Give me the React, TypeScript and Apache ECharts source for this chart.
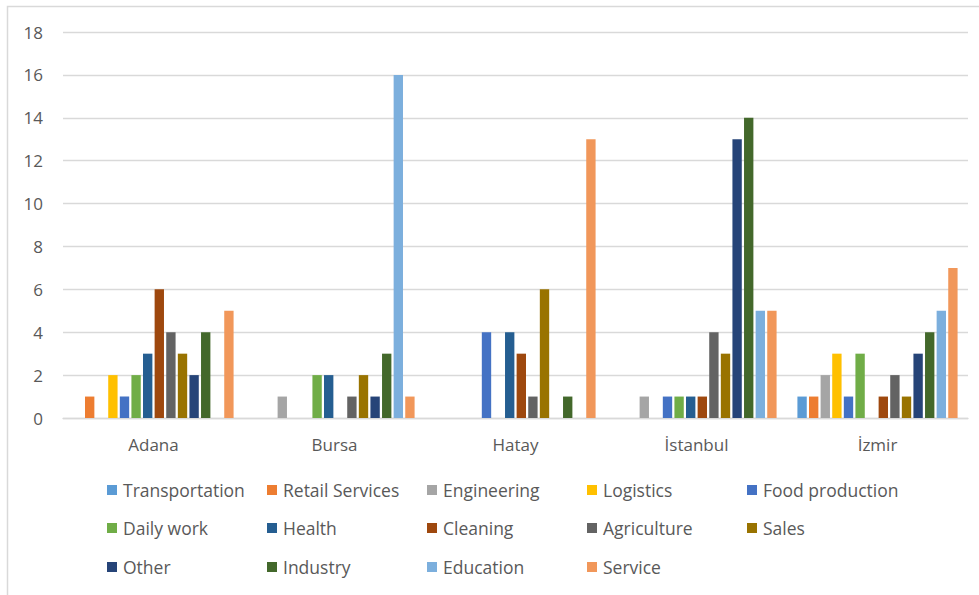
import React, { useEffect, useRef } from "react";
import * as echarts from "echarts";

const cities = ["Adana", "Bursa", "Hatay", "İstanbul", "İzmir"];
const yTicks = [0, 2, 4, 6, 8, 10, 12, 14, 16, 18];

const sectors = [
  "Transportation",
  "Retail Services",
  "Engineering",
  "Logistics",
  "Food production",
  "Daily work",
  "Health",
  "Cleaning",
  "Agriculture",
  "Sales",
  "Other",
  "Industry",
  "Education",
  "Service",
];

// counts per city, in the order of `cities`
const transportation = [0, 0, 0, 0, 1];
const retailServices = [1, 0, 0, 0, 1];
const engineering = [0, 1, 0, 1, 2];
const logistics = [2, 0, 0, 0, 3];
const foodProduction = [1, 0, 4, 1, 1];
const dailyWork = [2, 2, 0, 1, 3];
const health = [3, 2, 4, 1, 0];
const cleaning = [6, 0, 3, 1, 1];
const agriculture = [4, 1, 1, 4, 2];
const sales = [3, 2, 6, 3, 1];
const other = [2, 1, 0, 13, 3];
const industry = [4, 3, 1, 14, 4];
const education = [0, 16, 0, 5, 5];
const service = [5, 1, 13, 5, 7];

const seriesValues = [
  transportation,
  retailServices,
  engineering,
  logistics,
  foodProduction,
  dailyWork,
  health,
  cleaning,
  agriculture,
  sales,
  other,
  industry,
  education,
  service,
];

const palette = [
  "#5B9BD5",
  "#ED7D31",
  "#A5A5A5",
  "#FFC000",
  "#4472C4",
  "#70AD47",
  "#255E91",
  "#9E480E",
  "#636363",
  "#997300",
  "#264478",
  "#43682B",
  "#7CAFDD",
  "#F1975A",
];

const FONT = "'Open Sans', 'Noto Sans', sans-serif";
const TEXT_COLOR = "#595959";

export default function App() {
  const ref = useRef<HTMLDivElement>(null);

  useEffect(() => {
    if (!ref.current) return;
    const chart = echarts.init(ref.current, null, { renderer: "svg" });

    const legendRows = [490, 528, 567];
    const legends = sectors.map((name, i) => {
      const row = Math.floor(i / 5);
      const col = i % 5;
      return {
        data: [name],
        left: 107 + col * 160,
        top: legendRows[row] - 10,
        orient: "horizontal",
        padding: 0,
        itemWidth: 10,
        itemHeight: 10,
        icon: "rect",
        selectedMode: false,
        textStyle: {
          fontFamily: FONT,
          fontSize: 17.5,
          color: TEXT_COLOR,
          lineHeight: 20,
          padding: [0, 0, 0, 1],
        },
      };
    });

    chart.setOption({
      animation: false,
      color: palette,
      textStyle: { fontFamily: FONT },
      graphic: [
        {
          type: "rect",
          shape: { x: 7.5, y: 6.5, width: 1000, height: 1000 },
          style: { fill: "none", stroke: "#d9d9d9", lineWidth: 1.5 },
          silent: true,
        },
      ],
      legend: legends,
      grid: { left: 63, right: 11, top: 32, bottom: 177 },
      xAxis: {
        type: "category",
        data: cities,
        axisLine: { lineStyle: { color: "#d9d9d9", width: 1.3 } },
        axisTick: { show: false },
        axisLabel: {
          fontFamily: FONT,
          fontSize: 17,
          color: TEXT_COLOR,
          margin: 18,
        },
      },
      yAxis: {
        type: "value",
        min: yTicks[0],
        max: yTicks[yTicks.length - 1],
        interval: 2,
        axisLine: { show: false },
        axisTick: { show: false },
        splitLine: { lineStyle: { color: "#d9d9d9", width: 1.3 } },
        axisLabel: {
          fontFamily: FONT,
          fontSize: 17,
          color: TEXT_COLOR,
          margin: 20,
        },
      },
      series: sectors.map((name, i) => ({
        name,
        type: "bar",
        data: seriesValues[i],
        barCategoryGap: "11.5%",
        barGap: "24%",
      })),
    });

    return () => chart.dispose();
  }, []);

  return (
    <div
      ref={ref}
      style={{
        position: "fixed",
        left: 0,
        top: 0,
        width: 979,
        height: 595,
        background: "#ffffff",
      }}
    />
  );
}
